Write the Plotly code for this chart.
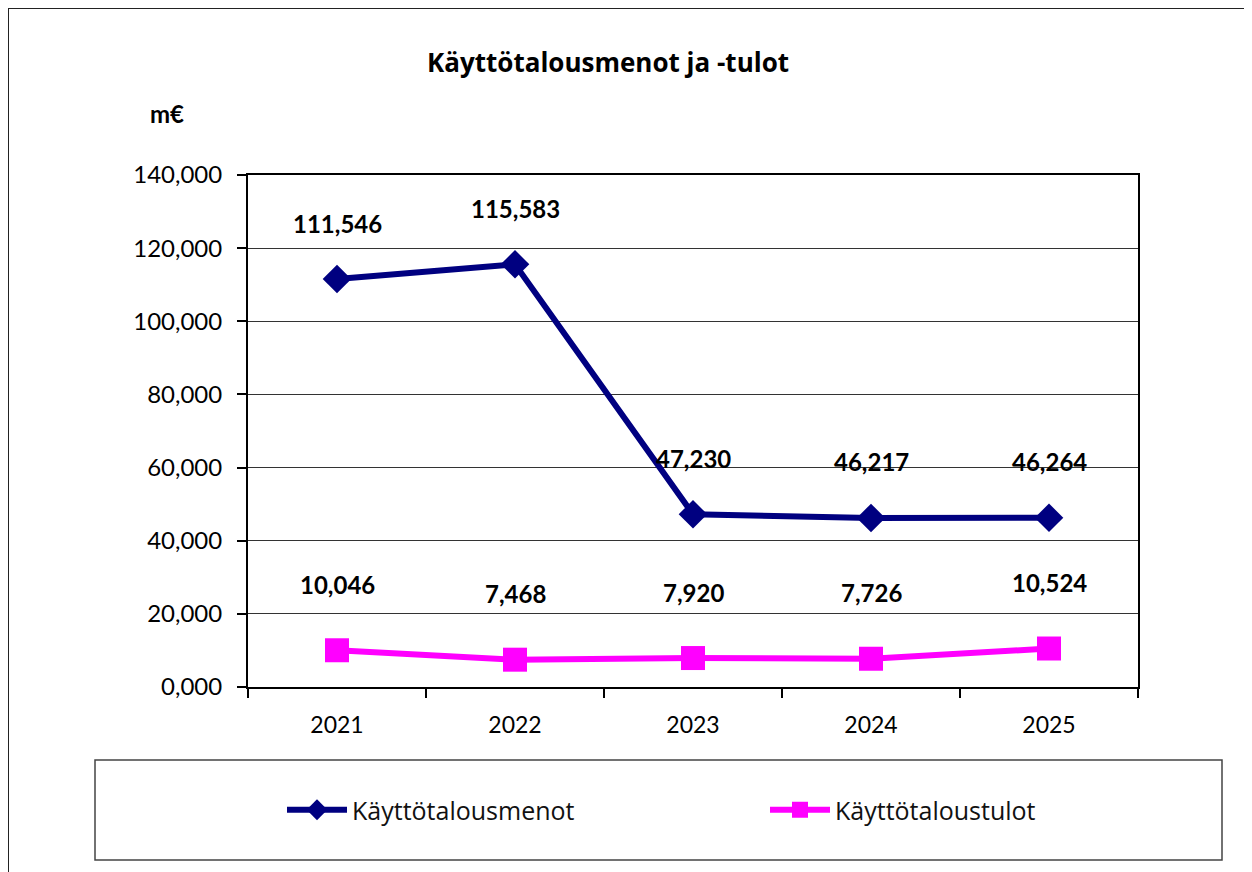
import plotly.graph_objects as go

years = ["2021", "2022", "2023", "2024", "2025"]
menot = [111.546, 115.583, 47.230, 46.217, 46.264]
tulot = [10.046, 7.468, 7.920, 7.726, 10.524]
y_ticks = [0, 20, 40, 60, 80, 100, 120, 140]

FONT = "Lato"
OFF = 8                       # page offset of the figure in the browser
W, H = 1252 - OFF, 872 - OFF
L, T = 248 - OFF, 175 - OFF
PW, PH = 890, 512
R, B = W - L - PW, H - T - PH


def px(x):
    # screenshot x -> paper x
    return (x - 248) / PW


def py(y):
    # screenshot y -> paper y
    return (687 - y) / PH


def fmt(v):
    return f"{v:.3f}".replace(".", ",")


fig = go.Figure()
fig.add_trace(go.Scatter(
    x=years, y=menot, name="Käyttötalousmenot", mode="lines+markers",
    line=dict(color="#000080", width=6),
    marker=dict(symbol="diamond", size=22, color="#000080"),
    legend="legend",
))
fig.add_trace(go.Scatter(
    x=years, y=tulot, name="Käyttötaloustulot", mode="lines+markers",
    line=dict(color="#FF00FF", width=6),
    marker=dict(symbol="square", size=24, color="#FF00FF"),
    legend="legend2",
))

lab_font = dict(family=FONT, size=24, color="black", weight="bold")
annotations = []
for i, v in enumerate(menot):
    annotations.append(dict(x=i, y=v, xref="x", yref="y", text=fmt(v),
                            showarrow=False, yshift=56, yanchor="middle",
                            font=lab_font))
for i, v in enumerate(tulot):
    annotations.append(dict(x=i, y=v, xref="x", yref="y", text=fmt(v),
                            showarrow=False, yshift=66, yanchor="middle",
                            font=lab_font))

annotations.append(dict(x=px(608), y=py(62), xref="paper", yref="paper",
                        xanchor="center", yanchor="middle",
                        text="Käyttötalousmenot ja -tulot", showarrow=False,
                        font=dict(family="Open Sans", size=26, color="black", weight="bold")))
annotations.append(dict(x=px(167), y=py(113), xref="paper", yref="paper",
                        xanchor="center", yanchor="middle",
                        text="m€", showarrow=False,
                        font=dict(family=FONT, size=24, color="black", weight="bold")))

shapes = [
    dict(type="rect", xref="paper", yref="paper",
         x0=px(8), y0=py(900), x1=px(1270), y1=py(8),
         line=dict(color="#222222", width=2)),
    dict(type="rect", xref="paper", yref="paper",
         x0=px(95), y0=py(860), x1=px(1222), y1=py(760),
         line=dict(color="#444444", width=1.5)),
]

leg_font = dict(family="Open Sans", size=25, color="#111111")
fig.update_layout(
    width=W, height=H,
    margin=dict(l=L, r=R, t=T, b=B),
    paper_bgcolor="white", plot_bgcolor="white",
    font=dict(family=FONT, color="black"),
    showlegend=True,
    legend=dict(x=px(282), y=py(810), xanchor="left", yanchor="middle",
                itemwidth=60, font=leg_font, bgcolor="rgba(0,0,0,0)"),
    legend2=dict(x=px(765), y=py(810), xanchor="left", yanchor="middle",
                 itemwidth=60, font=leg_font, bgcolor="rgba(0,0,0,0)"),
    annotations=annotations,
    shapes=shapes,
    xaxis=dict(
        type="category", categoryorder="array", categoryarray=years,
        range=[-0.5, len(years) - 0.5],
        showline=True, linecolor="black", linewidth=2, mirror=True,
        ticks="outside", tickson="boundaries", ticklen=9, tickcolor="black", tickwidth=1.5,
        tickfont=dict(family=FONT, size=23, color="black"), tickangle=0,
        ticklabelstandoff=16, showgrid=False,
    ),
    yaxis=dict(
        range=[0, 140], tickvals=y_ticks, ticktext=[fmt(v) for v in y_ticks],
        showline=True, linecolor="black", linewidth=2, mirror=True,
        ticks="outside", ticklen=9, tickcolor="black", tickwidth=1.5,
        tickfont=dict(family=FONT, size=24, color="black"), ticklabelstandoff=10,
        showgrid=True, gridcolor="#333333", gridwidth=1, zeroline=False,
    ),
)

fig.write_html("out.html")
